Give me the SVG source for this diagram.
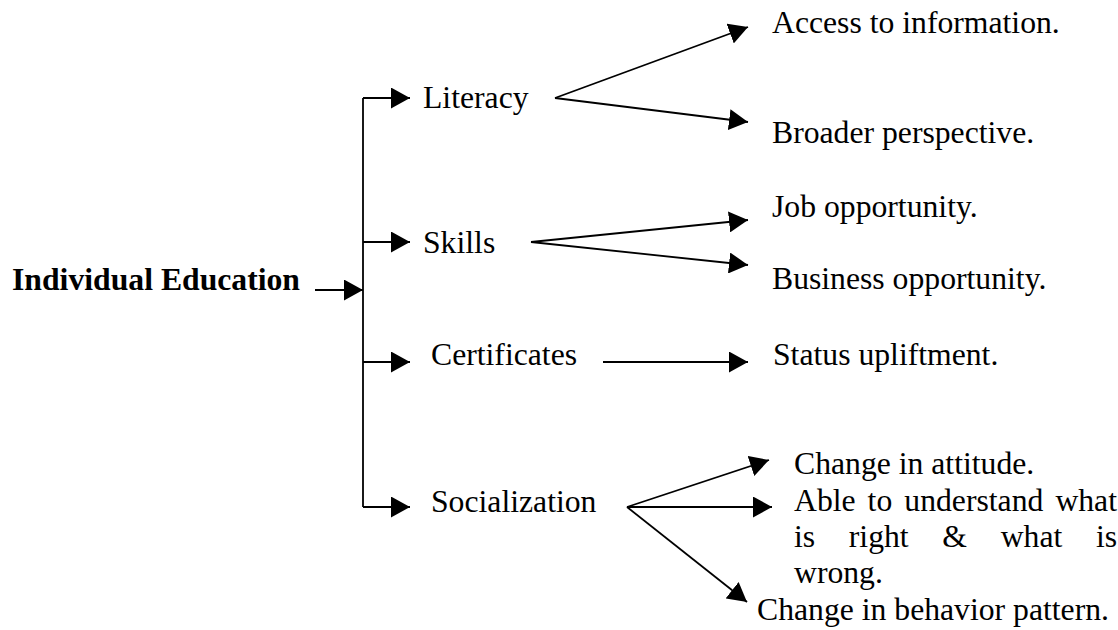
<svg xmlns="http://www.w3.org/2000/svg" width="1118" height="630" viewBox="0 0 1118 630">
<style>
text{font-family:"Liberation Serif","Times New Roman",serif;font-size:31.7px;fill:#000}
.b{font-weight:bold}
.c{stroke:#000;stroke-width:1.8;fill:none;marker-end:url(#ah)}
.p{stroke:#000;stroke-width:1.8;fill:none}
</style>
<defs>
<marker id="ah" markerUnits="userSpaceOnUse" viewBox="0 0 19 21" refX="19" refY="10.5" markerWidth="19" markerHeight="21" orient="auto">
<path d="M0,0 L19,10.5 L0,21 z" fill="#000"/>
</marker>
</defs>
<rect width="1118" height="630" fill="#fff"/>
<g id="connectors">
<path class="c" d="M315,290 H363"/>
<path class="p" d="M363,98 V507"/>
<path class="c" d="M363,98 H410"/>
<path class="c" d="M363,242 H410"/>
<path class="c" d="M363,362 H410"/>
<path class="c" d="M363,507 H410"/>
<path class="c" d="M555,98 L748,27"/>
<path class="c" d="M555,98 L748,122"/>
<path class="c" d="M531,242 L748,220"/>
<path class="c" d="M531,242 L748,265"/>
<path class="c" d="M603,362 H748"/>
<path class="c" d="M627,507 L769,460"/>
<path class="c" d="M627,507 H772"/>
<path class="c" d="M627,507 L747,602"/>
</g>
<g id="n-individual"><text class="b" x="300" y="290" text-anchor="end">Individual Education</text></g>
<g id="n-literacy"><text x="423" y="108">Literacy</text></g>
<g id="n-skills"><text x="423" y="253">Skills</text></g>
<g id="n-certificates"><text x="431" y="365">Certificates</text></g>
<g id="n-socialization"><text x="431" y="512">Socialization</text></g>
<g id="n-access"><text x="772" y="33">Access to information.</text></g>
<g id="n-broader"><text x="772" y="143">Broader perspective.</text></g>
<g id="n-job"><text x="772" y="217">Job opportunity.</text></g>
<g id="n-business"><text x="772" y="289">Business opportunity.</text></g>
<g id="n-status"><text x="773" y="365">Status upliftment.</text></g>
<g id="n-attitude"><text x="794" y="474">Change in attitude.</text></g>
<g id="n-able"><text y="511"><tspan x="794">Able</tspan><tspan x="867.6">to</tspan><tspan x="904.3">understand</tspan><tspan x="1055.4">what</tspan></text><text y="547"><tspan x="794">is</tspan><tspan x="848.8">right</tspan><tspan x="942.3">&amp;</tspan><tspan x="1000.7">what</tspan><tspan x="1095.9">is</tspan></text><text x="794" y="583">wrong.</text></g>
<g id="n-behavior"><text x="757" y="620">Change in behavior pattern.</text></g>
</svg>
